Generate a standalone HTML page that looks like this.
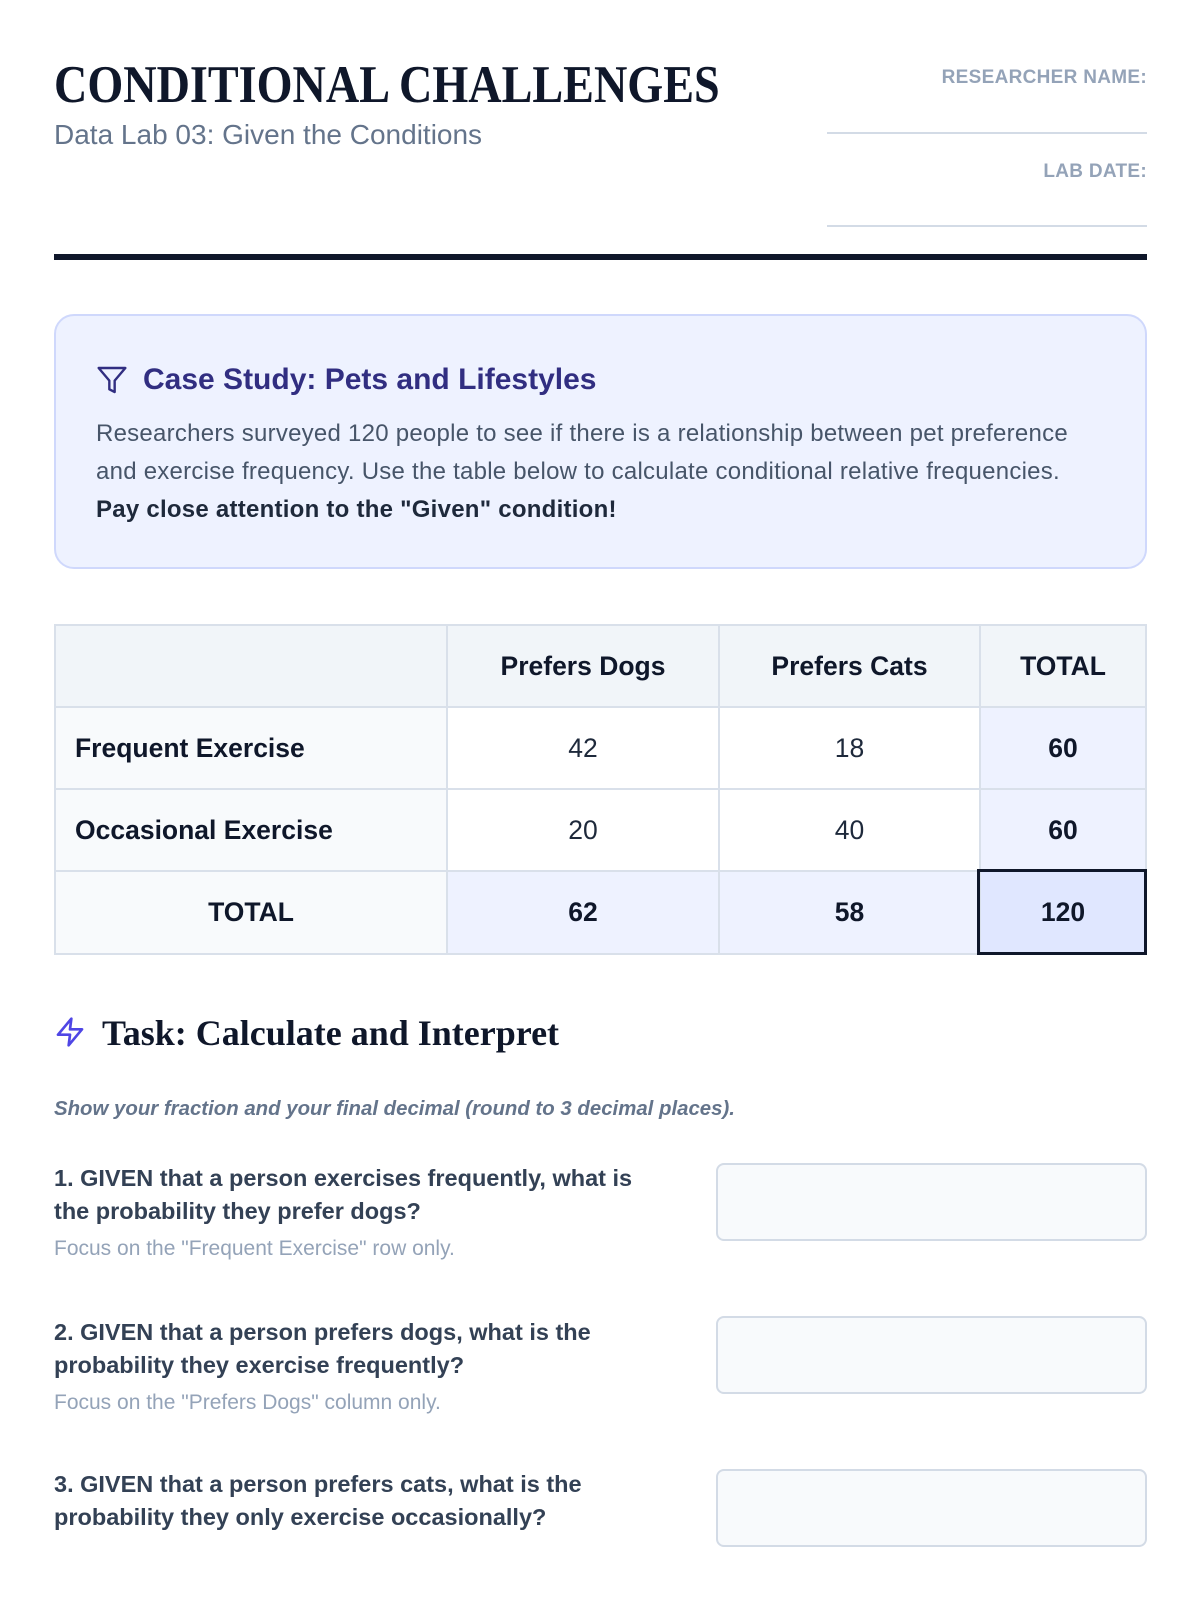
<!DOCTYPE html>
<html>
<head>
<meta charset="utf-8">
<style>
  html, body { margin:0; padding:0; }
  body { width:1200px; height:1600px; position:relative; background:#ffffff; overflow:hidden;
         font-family:"Liberation Sans", Arial, sans-serif; }
  .abs { position:absolute; white-space:nowrap; }
  .title { left:54px; top:55px; font-family:"Liberation Serif", serif; font-weight:bold; font-size:53px;
           line-height:60px; color:#0f172a; transform:scaleX(0.871); transform-origin:0 0; }
  .subtitle { left:54px; top:118px; font-size:28px; line-height:34px; color:#64748b; }
  .lbl { right:53px; font-size:19px; line-height:24px; font-weight:bold; color:#94a3b8; letter-spacing:0.3px; text-align:right; }
  .rule { position:absolute; left:827px; width:320px; height:2px; background:#d3dbe6; }
  .thick { position:absolute; left:54px; width:1093px; top:254px; height:6px; background:#0f172a; }
  .case { position:absolute; left:54px; top:314px; width:1093px; height:255px; box-sizing:border-box;
          background:#eef2ff; border:2px solid #cfd8fc; border-radius:20px; }
  .para { left:96px; top:415px; font-size:24px; line-height:37.75px; color:#475569; letter-spacing:0.25px; }
  .para b { color:#1e293b; }
  .tbl { position:absolute; left:54px; top:624px; width:1093px; height:331px; box-sizing:border-box; padding:2px;
         background:#d9e0ea; display:grid; grid-template-columns:390px 270px 259px 164px;
         grid-template-rows:80px 80px 80px 81px; gap:2px; }
  .c { display:flex; align-items:center; justify-content:center; font-size:26.5px; color:#1e293b; white-space:nowrap; }
  .h { background:#f1f5f9; font-weight:bold; color:#0f172a; }
  .rl { background:#f8fafc; font-weight:bold; color:#0f172a; justify-content:flex-start; padding-left:19px; }
  .rlc { background:#f8fafc; font-weight:bold; color:#0f172a; }
  .d { background:#ffffff; }
  .t { background:#eef2ff; font-weight:bold; color:#0f172a; }
  .g { background:#e0e7ff; font-weight:bold; color:#0f172a; }
  .box120 { position:absolute; left:977px; top:869px; width:170px; height:86px; box-sizing:border-box; border:3px solid #0f172a; }
  .task { left:102px; top:1011px; font-family:"Liberation Serif", serif; font-weight:bold; font-size:36px; line-height:44px; color:#0f172a; }
  .instr { left:54px; top:1095px; font-size:20.4px; line-height:28px; font-weight:bold; font-style:italic; color:#64748b; }
  .q { left:54px; font-size:23.5px; line-height:33px; font-weight:bold; color:#334155; }
  .hint { left:54px; font-size:21px; line-height:28px; color:#94a3b8; }
  .ans { position:absolute; left:716px; width:431px; height:78px; box-sizing:border-box; background:#f8fafc;
         border:2px solid #d3dbe6; border-radius:8px; }
</style>
</head>
<body>

<div class="abs title">CONDITIONAL CHALLENGES</div>
<div class="abs subtitle">Data Lab 03: Given the Conditions</div>

<div class="abs lbl" style="top:66px;">RESEARCHER NAME:</div>
<div class="rule" style="top:132px;"></div>
<div class="abs lbl" style="top:160px;">LAB DATE:</div>
<div class="rule" style="top:225px;"></div>

<div class="thick"></div>

<div class="case"></div>
<svg class="abs" style="left:96px;top:364px;" width="32" height="32" viewBox="0 0 24 24" fill="none" stroke="#312e81" stroke-width="1.8" stroke-linecap="round" stroke-linejoin="round">
  <polygon points="22 3 2 3 10 12.46 10 19 14 21 14 12.46 22 3"/>
</svg>
<div class="abs" style="left:143px;top:362px;font-size:30px;line-height:36px;font-weight:bold;color:#312e81;">Case Study: Pets and Lifestyles</div>
<div class="abs para">Researchers surveyed 120 people to see if there is a relationship between pet preference<br>and exercise frequency. Use the table below to calculate conditional relative frequencies.<br><b>Pay close attention to the "Given" condition!</b></div>

<div class="tbl">
  <div class="c h"></div>
  <div class="c h">Prefers Dogs</div>
  <div class="c h">Prefers Cats</div>
  <div class="c h">TOTAL</div>

  <div class="c rl">Frequent Exercise</div>
  <div class="c d">42</div>
  <div class="c d">18</div>
  <div class="c t">60</div>

  <div class="c rl">Occasional Exercise</div>
  <div class="c d">20</div>
  <div class="c d">40</div>
  <div class="c t">60</div>

  <div class="c rlc">TOTAL</div>
  <div class="c t">62</div>
  <div class="c t">58</div>
  <div class="c g">120</div>
</div>
<div class="box120"></div>

<svg class="abs" style="left:54px;top:1016px;" width="32" height="32" viewBox="0 0 24 24" fill="none" stroke="#4f46e5" stroke-width="2" stroke-linecap="round" stroke-linejoin="round">
  <path d="M13 2 3 14h9l-1 8 10-12h-9l1-8z"/>
</svg>
<div class="abs task">Task: Calculate and Interpret</div>

<div class="abs instr">Show your fraction and your final decimal (round to 3 decimal places).</div>

<div class="abs q" style="top:1162px;">1. GIVEN that a person exercises frequently, what is<br>the probability they prefer dogs?</div>
<div class="abs hint" style="top:1235px;">Focus on the "Frequent Exercise" row only.</div>
<div class="ans" style="top:1163px;"></div>

<div class="abs q" style="top:1316px;">2. GIVEN that a person prefers dogs, what is the<br>probability they exercise frequently?</div>
<div class="abs hint" style="top:1389px;">Focus on the "Prefers Dogs" column only.</div>
<div class="ans" style="top:1316px;"></div>

<div class="abs q" style="top:1468px;">3. GIVEN that a person prefers cats, what is the<br>probability they only exercise occasionally?</div>
<div class="ans" style="top:1469px;"></div>

</body>
</html>
